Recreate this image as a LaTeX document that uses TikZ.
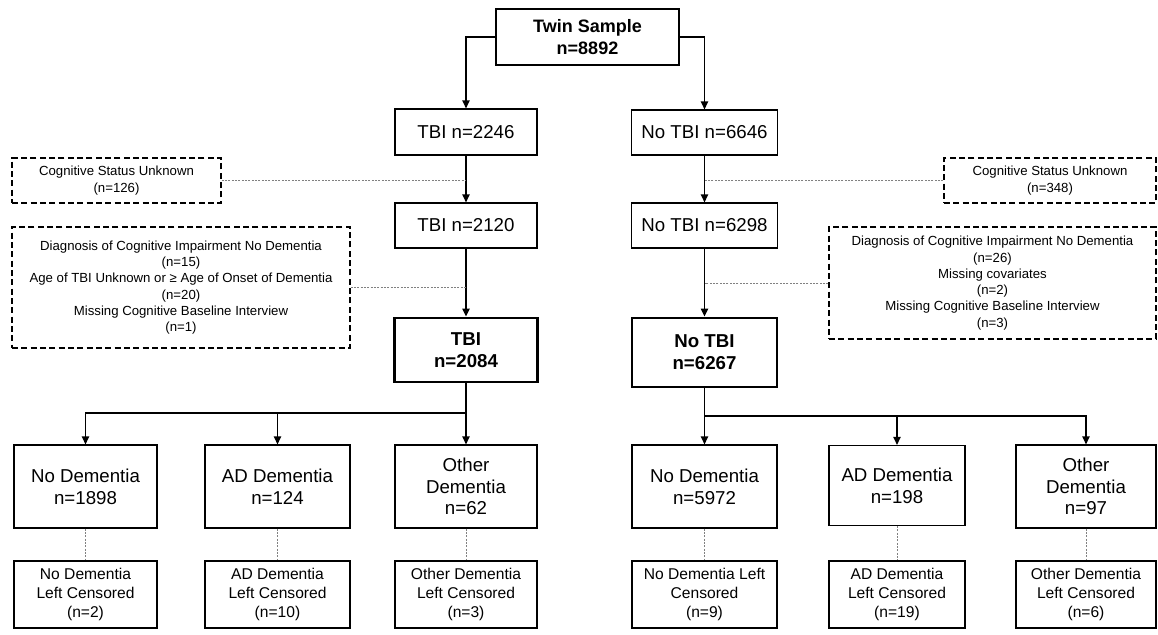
\documentclass[tikz,border=0pt]{standalone}
\usepackage{fontspec}
\setmainfont{Liberation Sans}
\usetikzlibrary{arrows.meta}

\begin{document}
\begin{tikzpicture}[x=0.75pt,y=-0.75pt,
  box/.style={draw,line width=0.9pt,align=center,inner sep=2pt,font=\fontsize{14}{16.3}\selectfont},
  boldbox/.style={box,line width=2.2pt,font=\fontsize{14}{16.3}\selectfont\bfseries},
  censbox/.style={box,font=\fontsize{11.7}{14.3}\selectfont},
  exclbox/.style={draw,line width=0.9pt,dash pattern=on 4.5pt off 2.5pt,align=center,font=\fontsize{9.9}{12.2}\selectfont},
  sz/.style 2 args={minimum width=#1*0.75pt,minimum height=#2*0.75pt},
  arr/.style={-{Triangle[length=6pt,width=5.5pt]},line width=1pt},
  link/.style={gray,line width=0.5pt,dash pattern=on 1.5pt off 1pt}]
  \useasboundingbox (0,0) rectangle (1158,635);
  % top of the flow
  \node[box,sz={183}{56},font=\fontsize{13.5}{16.3}\selectfont\bfseries] (twin) at (587.5,37){Twin Sample\\n=8892};
  \node[box,sz={142}{46}] (tbiA) at (466,132){TBI n=2246};
  \node[box,sz={146}{45}] (ntbA) at (704.5,132.5){No TBI n=6646};
  \node[box,sz={142}{45}] (tbiB) at (466,225.5){TBI n=2120};
  \node[box,sz={146}{45}] (ntbB) at (704.5,225.5){No TBI n=6298};
  \node[boldbox,sz={143}{64}] (tbiC) at (466,350){TBI\\n=2084};
  \node[boldbox,sz={145}{69}] (ntbC) at (704.5,352.5){No TBI\\n=6267};
  % exclusions
  \node[exclbox,sz={209}{45}] (cogL) at (116.5,180.5){Cognitive Status Unknown\\(n=126)};
  \node[exclbox,sz={212}{45}] (cogR) at (1050,180.5){Cognitive Status Unknown\\(n=348)};
  \node[exclbox,sz={338}{121}] (excL) at (181,287.5){Diagnosis of Cognitive Impairment No Dementia\\(n=15)\\Age of TBI Unknown or ≥ Age of Onset of Dementia\\(n=20)\\Missing Cognitive Baseline Interview\\(n=1)};
  \node[exclbox,sz={327}{112}] (excR) at (992.5,283){Diagnosis of Cognitive Impairment No Dementia\\(n=26)\\Missing covariates\\(n=2)\\Missing Cognitive Baseline Interview\\(n=3)};
  % outcomes
  \node[box,sz={143}{83}] (nd1) at (85.5,486.5){No Dementia\\n=1898};
  \node[box,sz={145}{83}] (ad1) at (277.5,486.5){AD Dementia\\n=124};
  \node[box,sz={142}{83}] (ot1) at (466,486.5){Other\\Dementia\\n=62};
  \node[box,sz={145}{83}] (nd2) at (704.5,486.5){No Dementia\\n=5972};
  \node[box,sz={136}{80}] (ad2) at (897,485.5){AD Dementia\\n=198};
  \node[box,sz={140}{83}] (ot2) at (1086,486.5){Other\\Dementia\\n=97};
  \node[censbox,sz={143}{67}] (cn1) at (85.5,594.5){No Dementia\\Left Censored\\(n=2)};
  \node[censbox,sz={145}{67}] (ca1) at (277.5,594.5){AD Dementia\\Left Censored\\(n=10)};
  \node[censbox,sz={142}{67}] (co1) at (466,594.5){Other Dementia\\Left Censored\\(n=3)};
  \node[censbox,sz={145}{67}] (cn2) at (704.5,594.5){No Dementia Left\\Censored\\(n=9)};
  \node[censbox,sz={136}{67}] (ca2) at (897,594.5){AD Dementia\\Left Censored\\(n=19)};
  \node[censbox,sz={140}{67}] (co2) at (1086,594.5){Other Dementia\\Left Censored\\(n=6)};
  \coordinate (brL) at (466,413);
  \coordinate (brR) at (704.5,416);
  % connectors
  \draw[arr] (twin.west) -| (tbiA.north);
  \draw[arr] (twin.east) -| (ntbA.north);
  \draw[arr] (tbiA) -- (tbiB);
  \draw[arr] (ntbA) -- (ntbB);
  \draw[arr] (tbiB) -- (tbiC);
  \draw[arr] (ntbB) -- (ntbC);
  \draw[link] (cogL.east) -- (cogL.east -| tbiA.south);
  \draw[link] (excL.east) -- (excL.east -| tbiB.south);
  \draw[link] (cogR.west) -- (cogR.west -| ntbA.south);
  \draw[link] (excR.west) -- (excR.west -| ntbB.south);
  \draw[line width=1pt] (tbiC.south) -- (brL);
  \draw[arr] (brL) -| (nd1.north);
  \draw[arr] (brL) -| (ad1.north);
  \draw[arr] (brL) -- (ot1.north);
  \draw[line width=1pt] (ntbC.south) -- (brR);
  \draw[arr] (brR) -- (nd2.north);
  \draw[arr] (brR) -| (ad2.north);
  \draw[arr] (brR) -| (ot2.north);
  \foreach \a/\b in {nd1/cn1,ad1/ca1,ot1/co1,nd2/cn2,ad2/ca2,ot2/co2}
    \draw[link] (\a) -- (\b);
\end{tikzpicture}
\end{document}
